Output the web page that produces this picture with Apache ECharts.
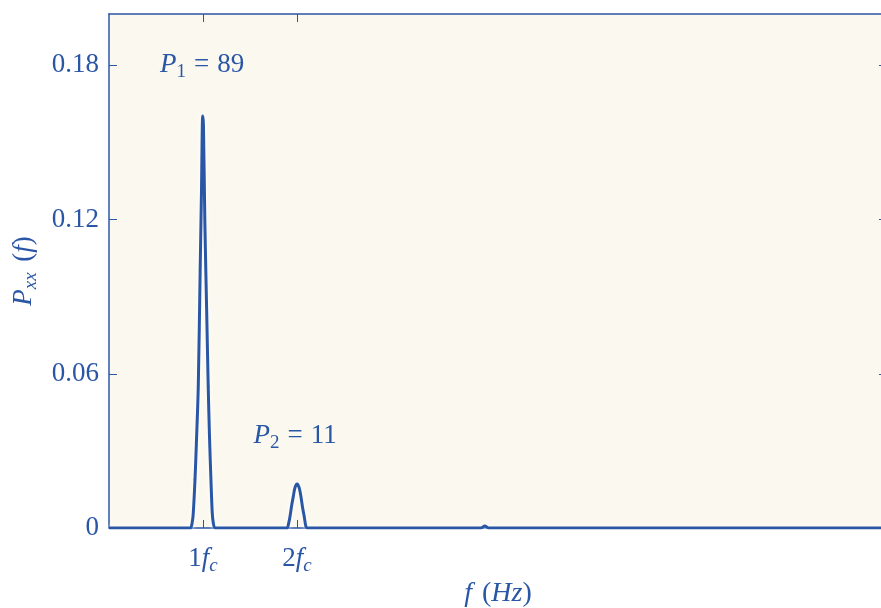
<!DOCTYPE html>
<html>
<head>
<meta charset="utf-8">
<script src="https://cdn.jsdelivr.net/npm/echarts@6/dist/echarts.min.js"></script>
<style>
html,body{margin:0;padding:0;background:#ffffff;overflow:hidden;}
#chart{width:881px;height:608px;}
</style>
</head>
<body>
<div id="chart"></div>
<script>
// frequency in multiples of fc
var freq = [0, 0.80, 0.86, 0.869, 0.885, 0.897, 0.915, 0.93, 0.95, 0.97, 0.985, 0.997, 1.005, 1.02, 1.04, 1.056, 1.07, 1.085, 1.099, 1.11, 1.128, 1.20,
            1.88, 1.897, 1.91, 1.926, 1.945, 1.961, 1.98, 2.003, 2.025, 2.043, 2.06, 2.078, 2.096, 2.11,
            3.96, 4.0, 4.04, 8.28];
var psd  = [0, 0, 0, 0, 0.002, 0.0058, 0.0187, 0.033, 0.0549, 0.0997, 0.133, 0.1603, 0.157, 0.1192, 0.0835, 0.0549, 0.035, 0.0187, 0.0058, 0.002, 0, 0,
            0, 0, 0.0015, 0.0044, 0.009, 0.0122, 0.0158, 0.0171, 0.0155, 0.0122, 0.008, 0.0044, 0.0005, 0,
            0, 0.0008, 0, 0];
var yTicks = [0, 0.06, 0.12, 0.18];
var xTickValues = [1, 2];
var xTickLabels = ['1', '2'];
var annX = [0.99, 1.98];
var annY = [0.18, 0.0358];
var annSub = ['1', '2'];
var annVal = ['89', '11'];

var blue = '#2A56A6';
var serif = '"Liberation Serif", "DejaVu Serif", serif';
var fs = 27;

var richMath = {
  n: {fontFamily: serif, fontSize: fs, color: blue},
  i: {fontFamily: serif, fontSize: fs, fontStyle: 'italic', color: blue},
  eq: {fontFamily: serif, fontSize: fs, color: blue, padding: [0, 8, 0, 8]},
  s: {fontFamily: serif, fontSize: 19, color: blue, padding: [14, 0, 0, 0]},
  si: {fontFamily: serif, fontSize: 19, fontStyle: 'italic', color: blue, padding: [14, 0, 0, 0]},
  sp: {fontFamily: serif, fontSize: fs, color: blue, padding: [0, 0, 0, 4]},
  pl: {fontFamily: serif, fontSize: 28, color: blue, padding: [0, 0, 0, 10]},
  ib: {fontFamily: serif, fontSize: 28, fontStyle: 'italic', color: blue},
  pr: {fontFamily: serif, fontSize: 28, color: blue}
};

var lineData = freq.map(function (f, k) { return [f, psd[k]]; });
var annData = annX.map(function (x, k) { return {value: [x, annY[k]], sub: annSub[k], val: annVal[k]}; });

var chart = echarts.init(document.getElementById('chart'), null, {renderer: 'canvas'});
chart.setOption({
  backgroundColor: '#ffffff',
  animation: false,
  grid: {left: 109, top: 14, width: 778, height: 514, show: true, backgroundColor: '#FBF9EF', borderWidth: 0,
         outerBoundsMode: 'none', containLabel: false},
  xAxis: [{
    type: 'value', min: 0, max: 8.28, position: 'bottom',
    splitLine: {show: false},
    axisLine: {show: true, onZero: false, lineStyle: {color: blue, width: 1.5}},
    axisTick: {show: true, inside: true, length: 8, customValues: xTickValues, lineStyle: {color: blue, width: 1}},
    axisLabel: {
      show: true, margin: 14, customValues: xTickValues,
      formatter: function (v) {
        var k = xTickValues.indexOf(v);
        return '{n|' + xTickLabels[k] + '}{i|f}{si|c}';
      },
      rich: richMath
    },
    name: '{ib|f}{pl|(}{ib|Hz}{pr|)}', nameLocation: 'middle', nameGap: 50,
    nameTextStyle: {rich: richMath}
  }, {
    type: 'value', min: 0, max: 8.28, position: 'top',
    splitLine: {show: false},
    axisLine: {show: true, onZero: false, lineStyle: {color: blue, width: 1.5}},
    axisTick: {show: true, inside: true, length: 8, customValues: xTickValues, lineStyle: {color: blue, width: 1}},
    axisLabel: {show: false}
  }],
  yAxis: [{
    type: 'value', min: 0, max: 0.2, interval: 0.06, position: 'left',
    splitLine: {show: false},
    axisLine: {show: true, onZero: false, lineStyle: {color: blue, width: 1.5}},
    axisTick: {show: true, inside: true, length: 8, customValues: yTicks, lineStyle: {color: blue, width: 1}},
    axisLabel: {
      show: true, margin: 10, customValues: yTicks,
      fontFamily: serif, fontSize: fs, color: blue,
      formatter: function (v) { return v === 0 ? '0' : v.toFixed(2); }
    },
    name: '{i|P}{si|xx}{sp| (}{i|f}{n|)}', nameLocation: 'middle', nameRotate: 90, nameGap: 66,
    nameTextStyle: {rich: richMath}
  }, {
    type: 'value', min: 0, max: 0.2, interval: 0.06, position: 'right',
    splitLine: {show: false},
    axisLine: {show: true, onZero: false, lineStyle: {color: blue, width: 1.5}},
    axisTick: {show: true, inside: true, length: 8, customValues: yTicks, lineStyle: {color: blue, width: 1}},
    axisLabel: {show: false}
  }],
  series: [{
    type: 'line', data: lineData, showSymbol: false, symbol: 'none', smooth: 0.3,
    lineStyle: {color: blue, width: 3, shadowColor: 'rgba(255,255,255,0.95)', shadowBlur: 4},
    z: 5
  }, {
    type: 'scatter', data: annData, symbolSize: 0, silent: true,
    itemStyle: {color: blue, opacity: 1},
    label: {
      show: true, position: 'inside', textBorderWidth: 0, color: blue, opacity: 1,
      formatter: function (p) { return '{i|P}{s|' + p.data.sub + '}{eq|=}{n|' + p.data.val + '}'; },
      rich: richMath
    }
  }]
});
</script>
</body>
</html>
